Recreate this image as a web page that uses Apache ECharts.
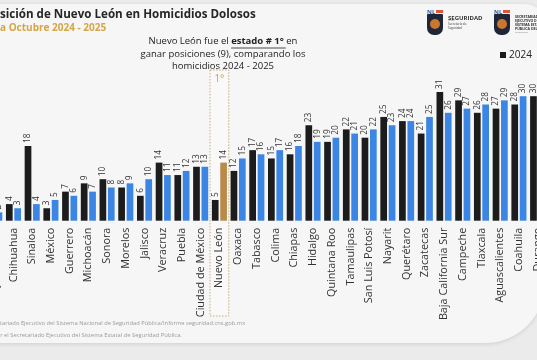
<!DOCTYPE html>
<html><head><meta charset="utf-8">
<script src="https://cdn.jsdelivr.net/npm/echarts@6/dist/echarts.min.js"></script>
<style>html,body{margin:0;padding:0;background:#ebebeb;overflow:hidden;width:537px;height:360px;position:relative}#c{position:absolute;left:-15px;top:0;width:562px;height:360px}</style>
</head><body><div id="c"></div>
<script>
// ---- data ----
const categories = ['Baja California','Chihuahua','Sinaloa','México','Guerrero','Michoacán','Sonora','Morelos','Jalisco','Veracruz','Puebla','Ciudad de México','Nuevo León','Oaxaca','Tabasco','Colima','Chiapas','Hidalgo','Quintana Roo','Tamaulipas','San Luis Potosí','Nayarit','Querétaro','Zacatecas','Baja California Sur','Campeche','Tlaxcala','Aguascalientes','Coahuila','Durango'];
const values2024 = [2,4,18,3,7,9,10,8,6,14,11,13,5,12,17,15,16,23,19,22,20,25,24,21,31,29,26,27,28,30];
const values2025 = [2,3,4,5,6,7,8,9,10,11,12,13,14,15,16,17,18,19,20,21,22,23,24,25,26,27,28,29,30,31];
const seriesNames = ['2024','2025'];
const highlightState = 'Nuevo León';
const highlightRank = '1°';
const titleText = 'Posición de Nuevo León en Homicidios Dolosos';
const subtitleText = 'Enero a Octubre 2024 - 2025';
const noteLines = [['Nuevo León fue el ', 'estado # 1°', ' en'], ['ganar posiciones (9), comparando los'], ['homicidios 2024 - 2025']];
const footerLines = ['Fuente: Secretariado Ejecutivo del Sistema Nacional de Seguridad Pública/Informe seguridad.cns.gob.mx', 'Elaborado por el Secretariado Ejecutivo del Sistema Estatal de Seguridad Pública.'];

const OX = 15; // the chart canvas starts 15px left of the visible window (reference is cropped)
const FF = "'Open Sans', sans-serif";
const BLACK = '#1c1c1c', BLUE = '#3b86e4', GOLD = '#b98a4a';
const mctx = document.createElement('canvas').getContext('2d');
function tw(t, font){ mctx.font = font; return mctx.measureText(t).width; }

const chart = echarts.init(document.getElementById('c'), null, {renderer:'canvas'});

const titleFont = 'bold 11.6px ' + FF;
const subFont = 'bold 10px ' + FF;
const noteFont = '9.5px ' + FF, noteBold = 'bold 9.5px ' + FF;
const footFont = '5.8px ' + FF;

const graphics = [];
// card
graphics.push({type:'rect', z:-100, shape:{x:OX - 60, y:4, width:605, height:339, r:[20,20,60,20]}, style:{fill:'#f6f6f6', shadowBlur:4, shadowColor:'rgba(0,0,0,0.12)', shadowOffsetY:1}});
// title / subtitle (cropped at left edge like the reference)
graphics.push({type:'text', x:OX - tw('Po', titleFont), y:8.5, style:{text:titleText, font:titleFont, fill:'#262626'}});
graphics.push({type:'text', x:OX - tw('Enero ', subFont), y:23.5, style:{text:subtitleText, font:subFont, fill:'#d6a546'}});
// note
const noteCx = OX + 223, noteY = [36, 49, 61];
{
  const a = noteLines[0];
  const w0 = tw(a[0], noteFont), w1 = tw(a[1], noteBold), w2 = tw(a[2], noteFont);
  const x0 = noteCx - (w0 + w1 + w2) / 2;
  graphics.push({type:'text', x:x0, y:noteY[0], style:{text:'{n|' + a[0] + '}{b|' + a[1] + '}{n|' + a[2] + '}', rich:{n:{font:noteFont, fill:'#222'}, b:{font:noteBold, fill:'#222'}}}});
  graphics.push({type:'line', shape:{x1:x0 + w0, y1:noteY[0] + 12, x2:x0 + w0 + w1 + 2, y2:noteY[0] + 12}, style:{stroke:'#222', lineWidth:0.8}});
  for (let i = 1; i < noteLines.length; i++) {
    graphics.push({type:'text', x:noteCx, y:noteY[i], style:{text:noteLines[i][0], font:noteFont, fill:'#222', textAlign:'center'}});
  }
}
// logos
function logo(x, lines){
  x += OX;
  graphics.push({type:'text', x:x, y:9, style:{text:'NL', font:'bold 6px ' + FF, fill:'#2a5aa8'}});
  graphics.push({type:'rect', shape:{x:x + 9, y:10, width:7, height:3}, style:{fill:'#e0553a'}});
  graphics.push({type:'rect', shape:{x:x, y:14, width:16, height:21, r:[1,1,7,7]}, style:{fill:'#1f2638'}});
  graphics.push({type:'circle', shape:{cx:x + 8, cy:24, r:5}, style:{fill:'#c9762e'}});
  lines.forEach((l, i) => graphics.push({type:'text', x:x + 21, y:15 + i * 4, style:{text:l.t, font:(l.b ? 'bold ' : '') + l.s + 'px ' + FF, fill:'#333'}}));
}
logo(427, [{t:'SEGURIDAD', s:6, b:true}, {t:'───', s:3}, {t:'Secretaría de', s:3}, {t:'Seguridad', s:3}]);
logo(494, [{t:'SECRETARIADO', s:3.5, b:true}, {t:'EJECUTIVO DEL', s:3.5, b:true}, {t:'SISTEMA ESTATAL', s:3.5, b:true}, {t:'PÚBLICA DEL EST.', s:3.5, b:true}, {t:'──────', s:3}]);
// footer
graphics.push({type:'text', x:OX - tw('Fuente: Secre', footFont), y:320, style:{text:footerLines[0], font:footFont, fill:'#9a9a9a'}});
graphics.push({type:'text', x:OX + 4 - tw('Elaborado por ', footFont), y:332, style:{text:footerLines[1], font:footFont, fill:'#9a9a9a'}});

const barLabel = {show:true, position:'top', rotate:90, align:'left', verticalAlign:'middle', distance:3, fontSize:8.3, color:'#333', fontFamily:FF};
const option = {
  backgroundColor:'#ebebeb',
  animation:false,
  textStyle:{fontFamily:FF},
  legend:{data:[seriesNames[0]], left:OX + 495, top:45, icon:'rect', itemWidth:6, itemHeight:6, itemGap:8,
    textStyle:{fontSize:10, color:'#222', fontFamily:FF, padding:[0,0,0,-2]}},
  grid:{left:0.4, right:0, top:54.7, bottom:139.3, containLabel:false},
  xAxis:{type:'category', data:categories, axisLine:{show:false}, axisTick:{show:false},
    axisLabel:{interval:0, rotate:90, margin:7, fontSize:10.8, color:'#333', fontFamily:FF}},
  yAxis:{type:'value', min:0, max:40, show:false, splitLine:{show:false}},
  series:[
    {name:seriesNames[0], type:'bar', data:values2024, barWidth:6.7, barGap:'25%', itemStyle:{color:BLACK}, label:barLabel},
    {name:seriesNames[1], type:'bar', barWidth:6.7, barGap:'25%', itemStyle:{color:BLUE},
      data:values2025.map((v, i) => categories[i] === highlightState ? {value:v, itemStyle:{color:GOLD}} : v),
      label:barLabel}
  ],
  graphic:{elements:graphics}
};
chart.setOption(option);

// highlight box around Nuevo León, placed through the category axis
const idx = categories.indexOf(highlightState);
const cx = chart.convertToPixel({xAxisIndex:0}, idx);
const band = chart.convertToPixel({xAxisIndex:0}, 1) - chart.convertToPixel({xAxisIndex:0}, 0);
const extra = [
  {type:'rect', z:-1, shape:{x:cx - band / 2, y:70, width:band, height:246}, style:{fill:'rgba(255,255,255,0.35)', stroke:'#c7b07c', lineWidth:1, lineDash:[1.5,1.5]}},
  {type:'text', x:cx, y:74, style:{text:highlightRank, font:'10px ' + FF, fill:'#c9a04a', textAlign:'center'}}
];
chart.setOption({graphic:{elements:graphics.concat(extra)}});
</script></body></html>
